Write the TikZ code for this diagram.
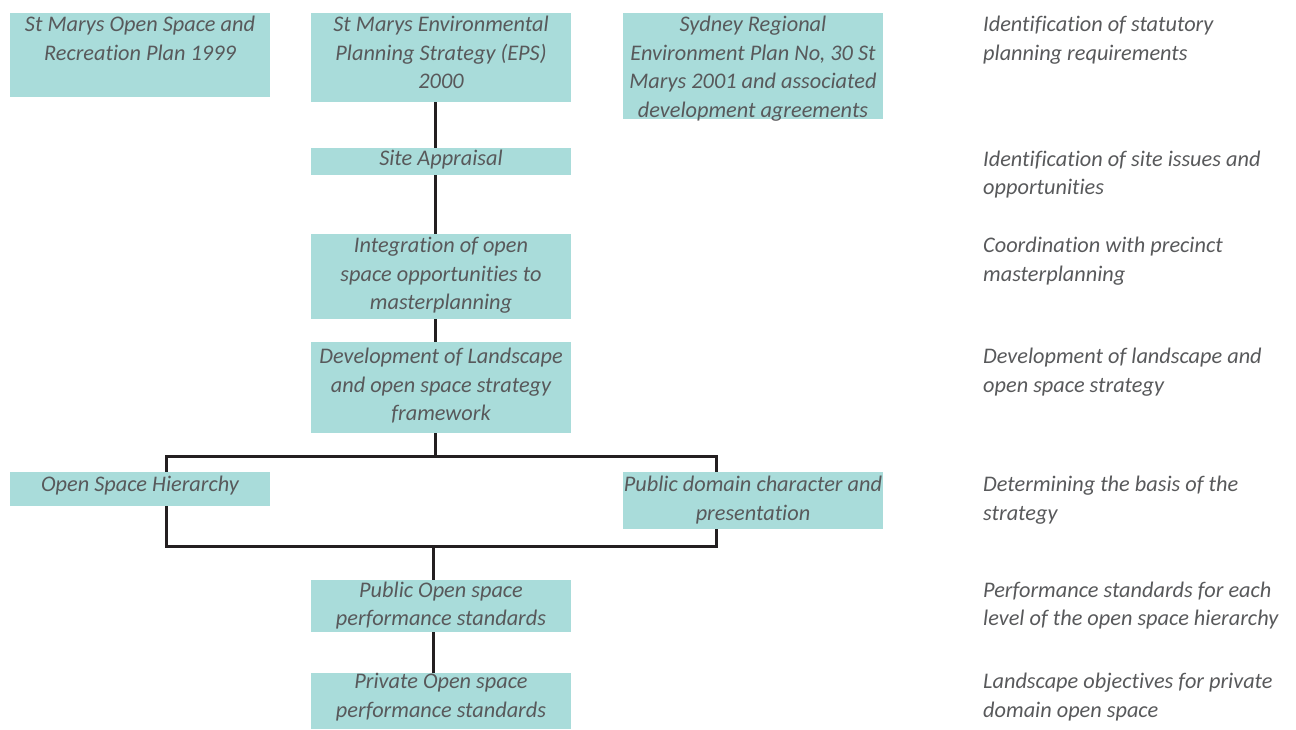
\documentclass[tikz,border=0pt]{standalone}
\usepackage{fontspec}
\setmainfont{Carlito}[Ligatures={NoCommon}]
\definecolor{boxc}{HTML}{A9DCDA}
\definecolor{txtc}{HTML}{58595B}
\definecolor{linec}{HTML}{231F20}
\newcommand\fl{\rule{0pt}{20pt}}
\tikzset{
  box/.style={fill=boxc, draw=none, inner sep=0pt, anchor=north west},
  lbl/.style={inner sep=0pt, anchor=north, align=center, text=txtc,
    font=\fontsize{22.3}{28.6}\selectfont\itshape},
  note/.style={inner sep=0pt, anchor=north west, align=left, text=txtc,
    font=\fontsize{22.3}{28.6}\selectfont\itshape},
  conn/.style={draw=linec, line width=3pt}
}
\begin{document}
\begin{tikzpicture}[x=1pt,y=-1pt]
\useasboundingbox (0,0) rectangle (1296,729);
% connector coordinates
\coordinate (v1) at (435,0);
\coordinate (v2) at (433,0);
\coordinate (tl) at (166,456);
\coordinate (br) at (716,546);
% boxes (named, drawn later over lines)
\path
  node[box, minimum width=260, minimum height=84] (a) at (10,13) {}
  node[box, minimum width=260, minimum height=89] (b) at (311,13) {}
  node[box, minimum width=260, minimum height=106] (c) at (623,13) {}
  node[box, minimum width=260, minimum height=27] (site) at (311,148) {}
  node[box, minimum width=260, minimum height=85] (integ) at (311,234) {}
  node[box, minimum width=260, minimum height=91] (dev) at (311,342) {}
  node[box, minimum width=260, minimum height=34] (osh) at (10,472) {}
  node[box, minimum width=260, minimum height=57] (pdc) at (623,472) {}
  node[box, minimum width=260, minimum height=52] (pub) at (311,580) {}
  node[box, minimum width=260, minimum height=56] (priv) at (311,673) {};
% connectors
\draw[conn] (b.south -| v1) -- (site.north -| v1);
\draw[conn] (site.south -| v1) -- (integ.north -| v1);
\draw[conn] (integ.south -| v1) -- (dev.north -| v1);
\draw[conn] (dev.south -| v1) -- (v1 |- tl);
\draw[conn] (tl) rectangle (br);
\draw[conn] (v2 |- br) -- (pub.north -| v2);
\draw[conn] (pub.south -| v2) -- (priv.north -| v2);
% redraw boxes on top
\foreach \n in {a,b,c,site,integ,dev,osh,pdc,pub,priv}
  \fill[boxc] (\n.north west) rectangle (\n.south east);
% box labels
\node[lbl] (ta) at (140,11.5) {\fl St Marys Open Space and\\Recreation Plan 1999};
\node[lbl] (tb) at (441,11.5) {\fl St Marys Environmental\\Planning Strategy (EPS)\\2000};
\node[lbl] (tc) at (753,11.5) {\fl Sydney Regional\\Environment Plan No, 30 St\\Marys 2001 and associated\\development agreements};
\node[lbl] (tsite) at (441,145.5) {\fl Site Appraisal};
\node[lbl] (tinteg) at (441,232.5) {\fl Integration of open\\space opportunities to\\masterplanning};
\node[lbl] (tdev) at (441,343.5) {\fl Development of Landscape\\and open space strategy\\framework};
\node[lbl] (tosh) at (140,471.5) {\fl Open Space Hierarchy};
\node[lbl] (tpdc) at (753,471.5) {\fl Public domain character and\\presentation};
\node[lbl] (tpub) at (441,577) {\fl Public Open space\\performance standards};
\node[lbl] (tpriv) at (441,668.5) {\fl Private Open space\\performance standards};
% notes
\node[note] (n1) at (983,11.5) {\fl Identification of statutory\\planning requirements};
\node[note] (n2) at (983,146) {\fl Identification of site issues and\\opportunities};
\node[note] (n3) at (983,232.5) {\fl Coordination with precinct\\masterplanning};
\node[note] (n4) at (983,343.5) {\fl Development of landscape and\\open space strategy};
\node[note] (n5) at (983,471.5) {\fl Determining the basis of the\\strategy};
\node[note] (n6) at (983,577) {\fl Performance standards for each\\level of the open space hierarchy};
\node[note] (n7) at (983,668.5) {\fl Landscape objectives for private\\domain open space};
\end{tikzpicture}
\end{document}
